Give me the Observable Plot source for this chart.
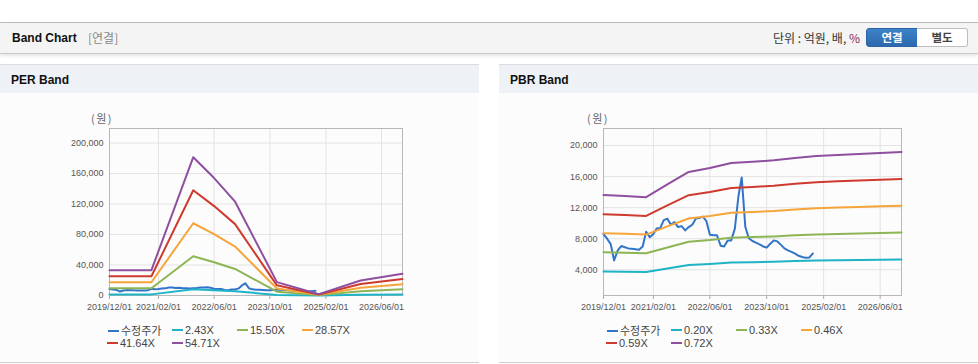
<!DOCTYPE html>
<html><head><meta charset="utf-8">
<script src="https://cdn.jsdelivr.net/npm/d3@7"></script>
<script src="https://cdn.jsdelivr.net/npm/@observablehq/plot@0.6"></script>
<style>
body{margin:0;width:978px;height:364px;position:relative;background:#fff;font-family:"Liberation Sans","Noto Sans CJK KR",sans-serif;overflow:hidden}
.abs{position:absolute}
.hdr{position:absolute;left:0;top:22px;width:978px;height:30px;background:#f4f4f4;border-top:1px solid #b9b9b9;border-bottom:1px solid #c9c9c9;box-shadow:0 2px 3px rgba(0,0,0,0.10)}
.htitle{position:absolute;left:12px;top:8px;font-size:12px;font-weight:bold;color:#111;line-height:14px}
.hsub{position:absolute;left:88px;top:8px;font-size:12px;color:#888;line-height:14px;font-family:"Noto Sans CJK KR",sans-serif}
.unit{position:absolute;right:118px;top:7px;font-size:12px;color:#333;line-height:16px;font-family:"Noto Sans CJK KR",sans-serif}
.unit b{font-weight:normal;color:#8b2a5a}
.btn{position:absolute;top:5px;height:17px;line-height:17px;font-size:11.5px;font-weight:bold;text-align:center;font-family:"Noto Sans CJK KR",sans-serif}
.b1{left:866px;width:50px;background:linear-gradient(#3d82c8,#2c68ad);color:#fff;border:1px solid #2a62a3;border-radius:3px 0 0 3px}
.b2{left:917px;width:50px;background:#fff;color:#444;border:1px solid #bdbdbd;border-left:none;border-radius:0 3px 3px 0}
.panel{position:absolute;top:64px;height:297px;width:479px;background:#fcfcfc;border-top:1px solid #dcdcdc;border-bottom:1px solid #cfcfcf}
.ptitle{height:28px;background:#eef2f6;font-size:12px;font-weight:bold;color:#111;line-height:30px;padding-left:11px}
.unitlbl{position:absolute;top:111px;font-size:11px;color:#666;letter-spacing:1.5px;line-height:14px;font-family:"Noto Sans CJK KR",sans-serif}
.lg{position:absolute;font-size:11px;color:#444;line-height:14px;white-space:nowrap}
.lg .sw{display:inline-block;width:11px;height:2px;vertical-align:middle;margin-right:2px;position:relative;top:-1px}
.lg .kr{font-family:"Noto Sans CJK KR",sans-serif}
</style></head>
<body>
<div class="hdr">
  <div class="htitle">Band Chart</div>
  <div class="hsub">[연결]</div>
  <div class="unit">단위 : 억원, 배, <b>%</b></div>
  <div class="btn b1">연결</div>
  <div class="btn b2">별도</div>
</div>
<div class="panel" style="left:0"><div class="ptitle">PER Band</div></div>
<div class="panel" style="left:499px"><div class="ptitle">PBR Band</div></div>
<div class="unitlbl" style="left:91px">(원)</div>
<div class="unitlbl" style="left:587px">(원)</div>
<div id="per" class="abs" style="left:0;top:100px"></div>
<div id="pbr" class="abs" style="left:499px;top:100px"></div>
<div id="legends"></div>
<script>
// ---- shared ----
const xTickDates = ["2019-12-01","2021-02-01","2022-06-01","2023-10-01","2025-02-01","2026-06-01"];
const xDomain = ["2019-12-01","2026-12-01"];
const colors = ["#3274c8","#1fb3c6","#8db556","#f5a53a","#cf3a2e","#8f4f9f"];

// adjusted price, monthly from 2019/12
const priceStart = "2019-12-01", priceEnd = "2024-12-01";
const price = [8600,8000,7300,5200,6500,7050,6900,6750,6700,6650,6580,7000,
  8900,8200,8600,9300,9370,10400,10580,9800,10140,9500,9620,9070,
  9500,9800,10600,10650,10850,10300,8500,8450,8430,7100,7000,7780,
  7780,9300,13500,15900,9500,8050,7700,7500,7280,7000,6850,7350,
  7780,7650,7200,6750,6500,6300,6065,5800,5650,5530,5580,6100];

// ---- PER band ----
const perLabels = ["수정주가","2.43X","15.50X","28.57X","41.64X","54.71X"];
const perDates = ["2019-12-01","2020-12-01","2021-12-01","2022-06-01","2022-12-01","2023-12-01","2024-12-01","2025-12-01","2026-12-01"];
const per243  = [1475,1475,8058,6840,5463,778,78,875,1261];
const per1550 = [9409,9409,51398,43633,34844,4960,496,5580,8045];
const per2857 = [17342,17342,94738,80425,64225,9142,914,10285,14828];
const per4164 = [25275,25275,138078,117217,93607,13325,1332,14990,21611];
const per5471 = [33200,33200,181400,154000,123000,17500,1750,19700,28400];
const perYTicks = [0,40000,80000,120000,160000,200000];
const perYDomain = [0,219000];

// ---- PBR band ----
const pbrLabels = ["수정주가","0.20X","0.33X","0.46X","0.59X","0.72X"];
const pbrDates = ["2019-12-01","2020-06-01","2020-12-01","2021-06-01","2021-12-01","2022-06-01","2022-12-01","2023-06-01","2023-12-01","2024-06-01","2024-12-01","2025-06-01","2025-12-01","2026-06-01","2026-12-01"];
const pbr020 = [3784,3750,3709,4167,4611,4750,4931,4973,5028,5112,5181,5223,5250,5292,5325];
const pbr033 = [6242,6187,6118,6875,7608,7837,8135,8204,8295,8433,8547,8616,8662,8731,8786];
const pbr046 = [8702,8625,8529,9584,10606,10925,11340,11436,11564,11756,11915,12011,12075,12171,12248];
const pbr059 = [11160,11062,10939,12291,13602,14012,14544,14667,14831,15077,15282,15405,15487,15610,15708];
const pbr072 = [13620,13500,13350,15000,16600,17100,17750,17900,18100,18400,18650,18800,18900,19050,19170];
const pbrYTicks = [4000,8000,12000,16000,20000];
const pbrYDomain = [680,22200];

const toDate = s => new Date(s + "T00:00:00Z");
const priceDates = d3.utcMonth.range(toDate(priceStart), toDate(priceEnd));
const priceData = price.map((v,i) => ({date: priceDates[i], value: v}));
const series = (dates, vals) => vals.map((v,i) => ({date: toDate(dates[i]), value: v}));

function bandPlot({width, marginLeft, marginRight, yDomain, yTicks, bands, dates}) {
  const xt = xTickDates.map(toDate);
  return Plot.plot({
    width, height: 230, marginLeft, marginRight, marginTop: 28, marginBottom: 35,
    style: {fontFamily: "'Liberation Sans', Arial, sans-serif", fontSize: "9px", color: "#555", background: "transparent", overflow: "visible"},
    x: {type: "utc", domain: xDomain.map(toDate)},
    y: {domain: yDomain},
    marks: [
      Plot.gridX(xt, {stroke: "#e3e3e3", strokeOpacity: 1}),
      Plot.gridY(yTicks, {stroke: "#e3e3e3", strokeOpacity: 1}),
      Plot.axisX(xt, {tickFormat: d3.utcFormat("%Y/%m/%d"), tickSize: 4, tickPadding: 4, stroke: "#aaa", label: null}),
      Plot.axisY(yTicks, {tickFormat: d3.format(","), tickSize: 0, tickPadding: 6, label: null}),
      Plot.frame({stroke: "#b8b8b8"}),
      Plot.line(priceData, {x: "date", y: "value", stroke: colors[0], strokeWidth: 2}),
      ...bands.map((b, i) => Plot.line(series(dates, b), {x: "date", y: "value", stroke: colors[i+1], strokeWidth: 2}))
    ]
  });
}

document.getElementById("per").append(bandPlot({
  width: 480, marginLeft: 109, marginRight: 78, yDomain: perYDomain, yTicks: perYTicks,
  bands: [per243, per1550, per2857, per4164, per5471], dates: perDates
}));
document.getElementById("pbr").append(bandPlot({
  width: 479, marginLeft: 104, marginRight: 77, yDomain: pbrYDomain, yTicks: pbrYTicks,
  bands: [pbr020, pbr033, pbr046, pbr059, pbr072], dates: pbrDates
}));

// legends (left edge of each item's swatch)
const perLegendPos = [[108,323],[172,323],[237,323],[302,323],[107,336],[172,336]];
const pbrLegendPos = [[607,323],[671,323],[736,323],[801,323],[606,336],[671,336]];
const lg = document.getElementById("legends");
function addLegend(labels, pos) {
  labels.forEach((t, i) => {
    const d = document.createElement("div");
    d.className = "lg";
    d.style.left = pos[i][0] + "px";
    d.style.top = pos[i][1] + "px";
    const sw = document.createElement("span");
    sw.className = "sw"; sw.style.background = colors[i];
    const tx = document.createElement("span");
    tx.textContent = t;
    if (/[가-힣]/.test(t)) tx.className = "kr";
    d.append(sw, tx);
    lg.append(d);
  });
}
addLegend(perLabels, perLegendPos);
addLegend(pbrLabels, pbrLegendPos);
</script>
</body></html>
